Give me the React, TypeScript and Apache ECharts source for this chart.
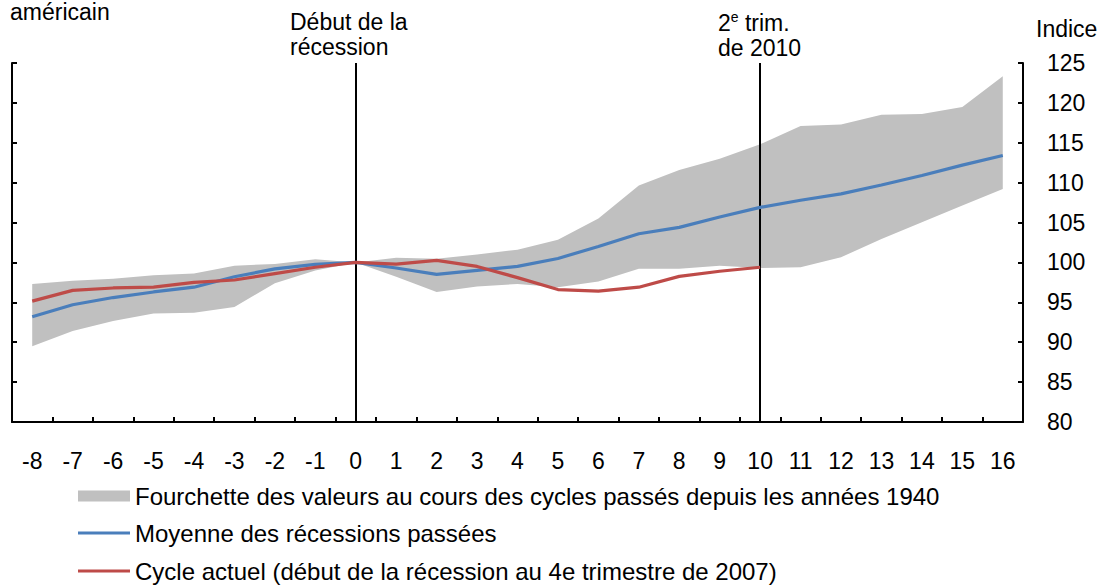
import React, { useEffect, useRef } from "react";
import * as echarts from "echarts";

const quarters = ["-8", "-7", "-6", "-5", "-4", "-3", "-2", "-1", "0", "1", "2", "3", "4", "5", "6", "7", "8", "9", "10", "11", "12", "13", "14", "15", "16"];

const meanPast = [93.2, 94.7, 95.6, 96.3, 96.9, 98.2, 99.2, 99.75, 100, 99.3, 98.5, 99.0, 99.5, 100.5, 102.0, 103.6, 104.4, 105.7, 106.9, 107.8, 108.6, 109.7, 110.9, 112.2, 113.4];

const currentCycle = [95.15, 96.5, 96.8, 96.9, 97.5, 97.8, 98.6, 99.4, 100, 99.8, 100.25, 99.5, 98.1, 96.6, 96.4, 96.9, 98.25, 98.9, 99.4];

const bandHigh = [97.3, 97.7, 97.95, 98.4, 98.6, 99.6, 99.8, 100.4, 100, 100.6, 100.45, 101.0, 101.6, 102.85, 105.5, 109.65, 111.6, 113.0, 114.8, 117.1, 117.3, 118.5, 118.6, 119.5, 123.35];

const bandLow = [89.5, 91.4, 92.65, 93.6, 93.7, 94.4, 97.4, 99.0, 100, 98.2, 96.3, 97.0, 97.3, 96.9, 97.6, 99.2, 99.2, 99.6, 99.3, 99.4, 100.65, 102.95, 105.05, 107.15, 109.2];

const markers = ["0", "10"];

const nameBand = "Fourchette des valeurs au cours des cycles passés depuis les années 1940";
const nameMean = "Moyenne des récessions passées";
const nameCurrent = "Cycle actuel (début de la récession au 4e trimestre de 2007)";

const FONT = '"Liberation Sans", Arial, Helvetica, sans-serif';
const LEGEND_FONT = '"Liberation Sans Narrow", "Arial Narrow", "Liberation Sans", sans-serif';

export default function App() {
  const ref = useRef<HTMLDivElement>(null);

  useEffect(() => {
    document.body.style.margin = "0";
    if (!ref.current) return;
    const chart = echarts.init(ref.current, null, { renderer: "svg" });

    const bandDiff = bandHigh.map((h, i) => +(h - bandLow[i]).toFixed(3));

    const axisCommon = {
      type: "value" as const,
      min: 80,
      max: 125,
      interval: 5,
      splitLine: { show: false },
      axisLine: { show: true, lineStyle: { color: "#000", width: 2 } },
      axisTick: { show: true, inside: true, length: 5, lineStyle: { color: "#000", width: 2 } },
    };

    const legendCommon = {
      orient: "horizontal" as const,
      left: 78,
      padding: 0,
      icon: "rect",
      itemWidth: 52,
      selectedMode: false,
      textStyle: { fontFamily: LEGEND_FONT, fontSize: 24, color: "#000", lineHeight: 24 },
    };

    chart.setOption({
      animation: false,
      grid: { left: 12, right: 86, top: 63, bottom: 164, containLabel: false },
      xAxis: {
        type: "category",
        data: quarters,
        boundaryGap: true,
        axisLine: { show: true, onZero: false, lineStyle: { color: "#000", width: 2 } },
        axisTick: { show: true, inside: true, length: 5, lineStyle: { color: "#000", width: 2 } },
        axisLabel: { margin: 27, fontFamily: FONT, fontSize: 23, color: "#000", interval: 0 },
        splitLine: { show: false },
      },
      yAxis: [
        {
          ...axisCommon,
          position: "right",
          axisLabel: { margin: 24, fontFamily: FONT, fontSize: 23, color: "#000" },
        },
        {
          ...axisCommon,
          position: "left",
          axisLabel: { show: false },
        },
      ],
      legend: [
        { ...legendCommon, top: 484, itemHeight: 11, data: [nameBand] },
        { ...legendCommon, top: 521, itemHeight: 3, data: [nameMean] },
        { ...legendCommon, top: 559, itemHeight: 3, data: [nameCurrent] },
      ],
      series: [
        {
          name: "bandBase",
          type: "line",
          data: bandLow,
          stack: "band",
          symbol: "none",
          silent: true,
          lineStyle: { width: 0, opacity: 0 },
          itemStyle: { color: "transparent" },
          z: 1,
        },
        {
          name: nameBand,
          type: "line",
          data: bandDiff,
          stack: "band",
          symbol: "none",
          silent: true,
          lineStyle: { width: 0, opacity: 0 },
          itemStyle: { color: "#C0C0C0" },
          areaStyle: { color: "#C0C0C0", opacity: 1 },
          z: 1,
        },
        {
          name: nameMean,
          type: "line",
          data: meanPast,
          symbol: "none",
          silent: true,
          lineStyle: { color: "#4A7EBB", width: 3.2 },
          itemStyle: { color: "#4A7EBB" },
          z: 3,
          markLine: {
            silent: true,
            symbol: ["none", "none"],
            label: { show: false },
            lineStyle: { color: "#000", width: 2, type: "solid" },
            data: markers.map((m) => ({ xAxis: m })),
            z: 2,
          },
        },
        {
          name: nameCurrent,
          type: "line",
          data: currentCycle,
          symbol: "none",
          silent: true,
          lineStyle: { color: "#BE4B48", width: 3.2 },
          itemStyle: { color: "#BE4B48" },
          z: 4,
        },
      ],
      graphic: [
        {
          type: "text",
          x: 10,
          y: 12,
          style: { text: "américain", font: `23px ${FONT}`, fill: "#000", align: "left", verticalAlign: "middle" },
        },
        {
          type: "text",
          x: 1036,
          y: 28.7,
          style: { text: "Indice", font: `23px ${FONT}`, fill: "#000", align: "left", verticalAlign: "middle" },
        },
        {
          type: "text",
          x: 290,
          y: 9,
          style: {
            text: "Début de la\nrécession",
            font: `23px ${FONT}`,
            lineHeight: 25,
            fill: "#000",
            align: "left",
            verticalAlign: "top",
          },
        },
        {
          type: "text",
          x: 718,
          y: 10,
          style: {
            text: "{n|2}{s|e}{n| trim.}\n{n|de 2010}",
            fill: "#000",
            align: "left",
            verticalAlign: "top",
            rich: {
              n: { fontFamily: FONT, fontSize: 23, lineHeight: 25, fill: "#000" },
              s: { fontFamily: FONT, fontSize: 14, lineHeight: 14, verticalAlign: "top", fill: "#000" },
            },
          },
        },
      ],
    });

    return () => {
      chart.dispose();
    };
  }, []);

  return <div ref={ref} style={{ position: "absolute", left: 0, top: 0, width: 1109, height: 586 }} />;
}
